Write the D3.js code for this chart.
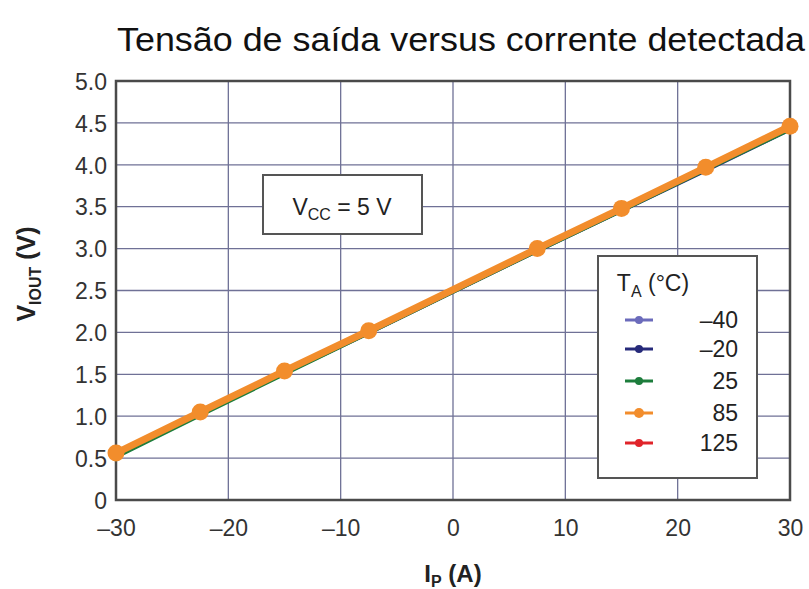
<!DOCTYPE html>
<html>
<head>
<meta charset="utf-8">
<script src="https://cdn.jsdelivr.net/npm/d3@7"></script>
<style>
  body { margin: 0; background: #fff; }
  svg { font-family: "Liberation Sans", Arial, sans-serif; }
  .tick text { fill: #333; font-size: 23px; }
</style>
</head>
<body>
<svg id="chart" width="809" height="589"></svg>
<script>
// current points (A)
var currents = [-30, -22.5, -15, -7.5, 7.5, 15, 22.5, 30];

// output voltage per temperature (V)
var temps = ["–40", "–20", "25", "85", "125"];
var vM40 = [0.53, 1.03, 1.52, 2.00, 2.98, 3.46, 3.95, 4.44];
var vM20 = [0.52, 1.02, 1.51, 1.99, 2.97, 3.45, 3.93, 4.42];
var v25 = [0.51, 1.01, 1.50, 1.99, 2.97, 3.45, 3.94, 4.42];
var v85 = [0.56, 1.05, 1.54, 2.02, 3.00, 3.48, 3.97, 4.46];
var v125 = [0.55, 1.04, 1.53, 2.01, 2.99, 3.47, 3.96, 4.45];

var xTicks = [-30, -20, -10, 0, 10, 20, 30];
var yTicks = [0, 0.5, 1, 1.5, 2, 2.5, 3, 3.5, 4, 4.5, 5];

var series = [
    { name: "125", values: v125, color: "#e0242a", r: 4 },
    { name: "–40", values: vM40, color: "#6b6bbb", r: 4 },
    { name: "–20", values: vM20, color: "#262a7a", r: 4 },
    { name: "25", values: v25, color: "#1d7d3c", r: 4 },
    { name: "85", values: v85, color: "#f28d2c", r: 8.5 }
];
var legendOrder = ["–40", "–20", "25", "85", "125"];

var svg = d3.select("#chart");
var margin = { left: 116, top: 81, right: 19, bottom: 89 };
var width = 809 - margin.left - margin.right;
var height = 589 - margin.top - margin.bottom;

var x = d3.scaleLinear().domain([-30, 30]).range([margin.left, margin.left + width]);
var y = d3.scaleLinear().domain([0, 5]).range([margin.top + height, margin.top]);

// Title
svg.append("text")
    .attr("x", 117)
    .attr("y", 51)
    .attr("font-size", 33)
    .attr("textLength", 688)
    .attr("lengthAdjust", "spacingAndGlyphs")
    .attr("fill", "#111")
    .text("Tensão de saída versus corrente detectada");

// Grid
svg.append("g")
    .selectAll("line.gx")
    .data(xTicks.slice(1, -1))
    .enter()
    .append("line")
    .attr("x1", d => x(d)).attr("x2", d => x(d))
    .attr("y1", margin.top).attr("y2", margin.top + height)
    .attr("stroke", "#6f7196").attr("stroke-width", 1.3);

svg.append("g")
    .selectAll("line.gy")
    .data(yTicks.slice(1, -1))
    .enter()
    .append("line")
    .attr("x1", margin.left).attr("x2", margin.left + width)
    .attr("y1", d => y(d)).attr("y2", d => y(d))
    .attr("stroke", "#6f7196").attr("stroke-width", 1.3);

// Axes (labels only, frame drawn separately)
var xAxis = svg.append("g")
    .attr("transform", "translate(0," + (margin.top + height) + ")")
    .call(d3.axisBottom(x).tickValues(xTicks).tickSize(0).tickPadding(20)
        .tickFormat(d => d < 0 ? "–" + Math.abs(d) : d));
xAxis.select(".domain").remove();

var yAxis = svg.append("g")
    .attr("transform", "translate(" + margin.left + ",0)")
    .call(d3.axisLeft(y).tickValues(yTicks).tickSize(0).tickPadding(9)
        .tickFormat(d => d === 0 ? "0" : d3.format(".1f")(d)));
yAxis.select(".domain").remove();
yAxis.selectAll(".tick text").attr("dy", "0.36em");

// Plot frame
svg.append("rect")
    .attr("x", margin.left).attr("y", margin.top)
    .attr("width", width).attr("height", height)
    .attr("fill", "none").attr("stroke", "#4a4a4a").attr("stroke-width", 2.5);

// Axis titles
var yl = svg.append("text")
    .attr("transform", "translate(35,274) rotate(-90)")
    .attr("text-anchor", "middle")
    .attr("font-size", 25).attr("font-weight", "bold").attr("fill", "#222");
yl.append("tspan").text("V");
yl.append("tspan").attr("font-size", 16).attr("dy", 6).text("IOUT");
yl.append("tspan").attr("dy", -6).text(" (V)");

var xl = svg.append("text")
    .attr("x", x(0)).attr("y", 582)
    .attr("text-anchor", "middle")
    .attr("font-size", 24).attr("font-weight", "bold").attr("fill", "#222");
xl.append("tspan").text("I");
xl.append("tspan").attr("font-size", 16).attr("dy", 5).text("P");
xl.append("tspan").attr("dy", -5).text(" (A)");

// Lines
var line = d3.line()
    .x((d, i) => x(currents[i]))
    .y(d => y(d));

series.forEach(function (s) {
    svg.append("path")
        .attr("d", line(s.values))
        .attr("fill", "none")
        .attr("stroke", s.color)
        .attr("stroke-width", s.name === "85" ? 7 : 3.5)
        .attr("stroke-linejoin", "round");
    svg.append("g")
        .selectAll("circle")
        .data(s.values)
        .enter()
        .append("circle")
        .attr("cx", (d, i) => x(currents[i]))
        .attr("cy", d => y(d))
        .attr("r", s.r)
        .attr("fill", s.color);
});

// VCC annotation box
svg.append("rect")
    .attr("x", 263).attr("y", 175).attr("width", 159).attr("height", 59)
    .attr("fill", "#fff").attr("stroke", "#555").attr("stroke-width", 2);
var vcc = svg.append("text")
    .attr("x", 342).attr("y", 215)
    .attr("text-anchor", "middle")
    .attr("font-size", 23).attr("fill", "#222");
vcc.append("tspan").text("V");
vcc.append("tspan").attr("font-size", 16).attr("dy", 5).text("CC");
vcc.append("tspan").attr("dy", -5).text(" = 5 V");

// Legend
var legend = svg.append("g");
legend.append("rect")
    .attr("x", 598).attr("y", 256).attr("width", 159).attr("height", 222)
    .attr("fill", "#fff").attr("stroke", "#555").attr("stroke-width", 2);
var lt = legend.append("text")
    .attr("x", 653).attr("y", 291)
    .attr("text-anchor", "middle")
    .attr("font-size", 23).attr("fill", "#222");
lt.append("tspan").text("T");
lt.append("tspan").attr("font-size", 16).attr("dy", 6).text("A");
lt.append("tspan").attr("dy", -6).text(" (°C)");

var legendY = [320, 349, 381, 413, 443];
legendOrder.forEach(function (name, i) {
    var s = series.find(d => d.name === name);
    var g = legend.append("g").attr("transform", "translate(0," + legendY[i] + ")");
    g.append("line")
        .attr("x1", 625).attr("x2", 653)
        .attr("stroke", s.color).attr("stroke-width", 3);
    g.append("circle")
        .attr("cx", 639).attr("r", name === "85" ? 5 : 4)
        .attr("fill", s.color);
    g.append("text")
        .attr("x", 738).attr("dy", "0.36em")
        .attr("text-anchor", "end")
        .attr("font-size", 23).attr("fill", "#222")
        .text(name);
});
</script>
</body>
</html>
